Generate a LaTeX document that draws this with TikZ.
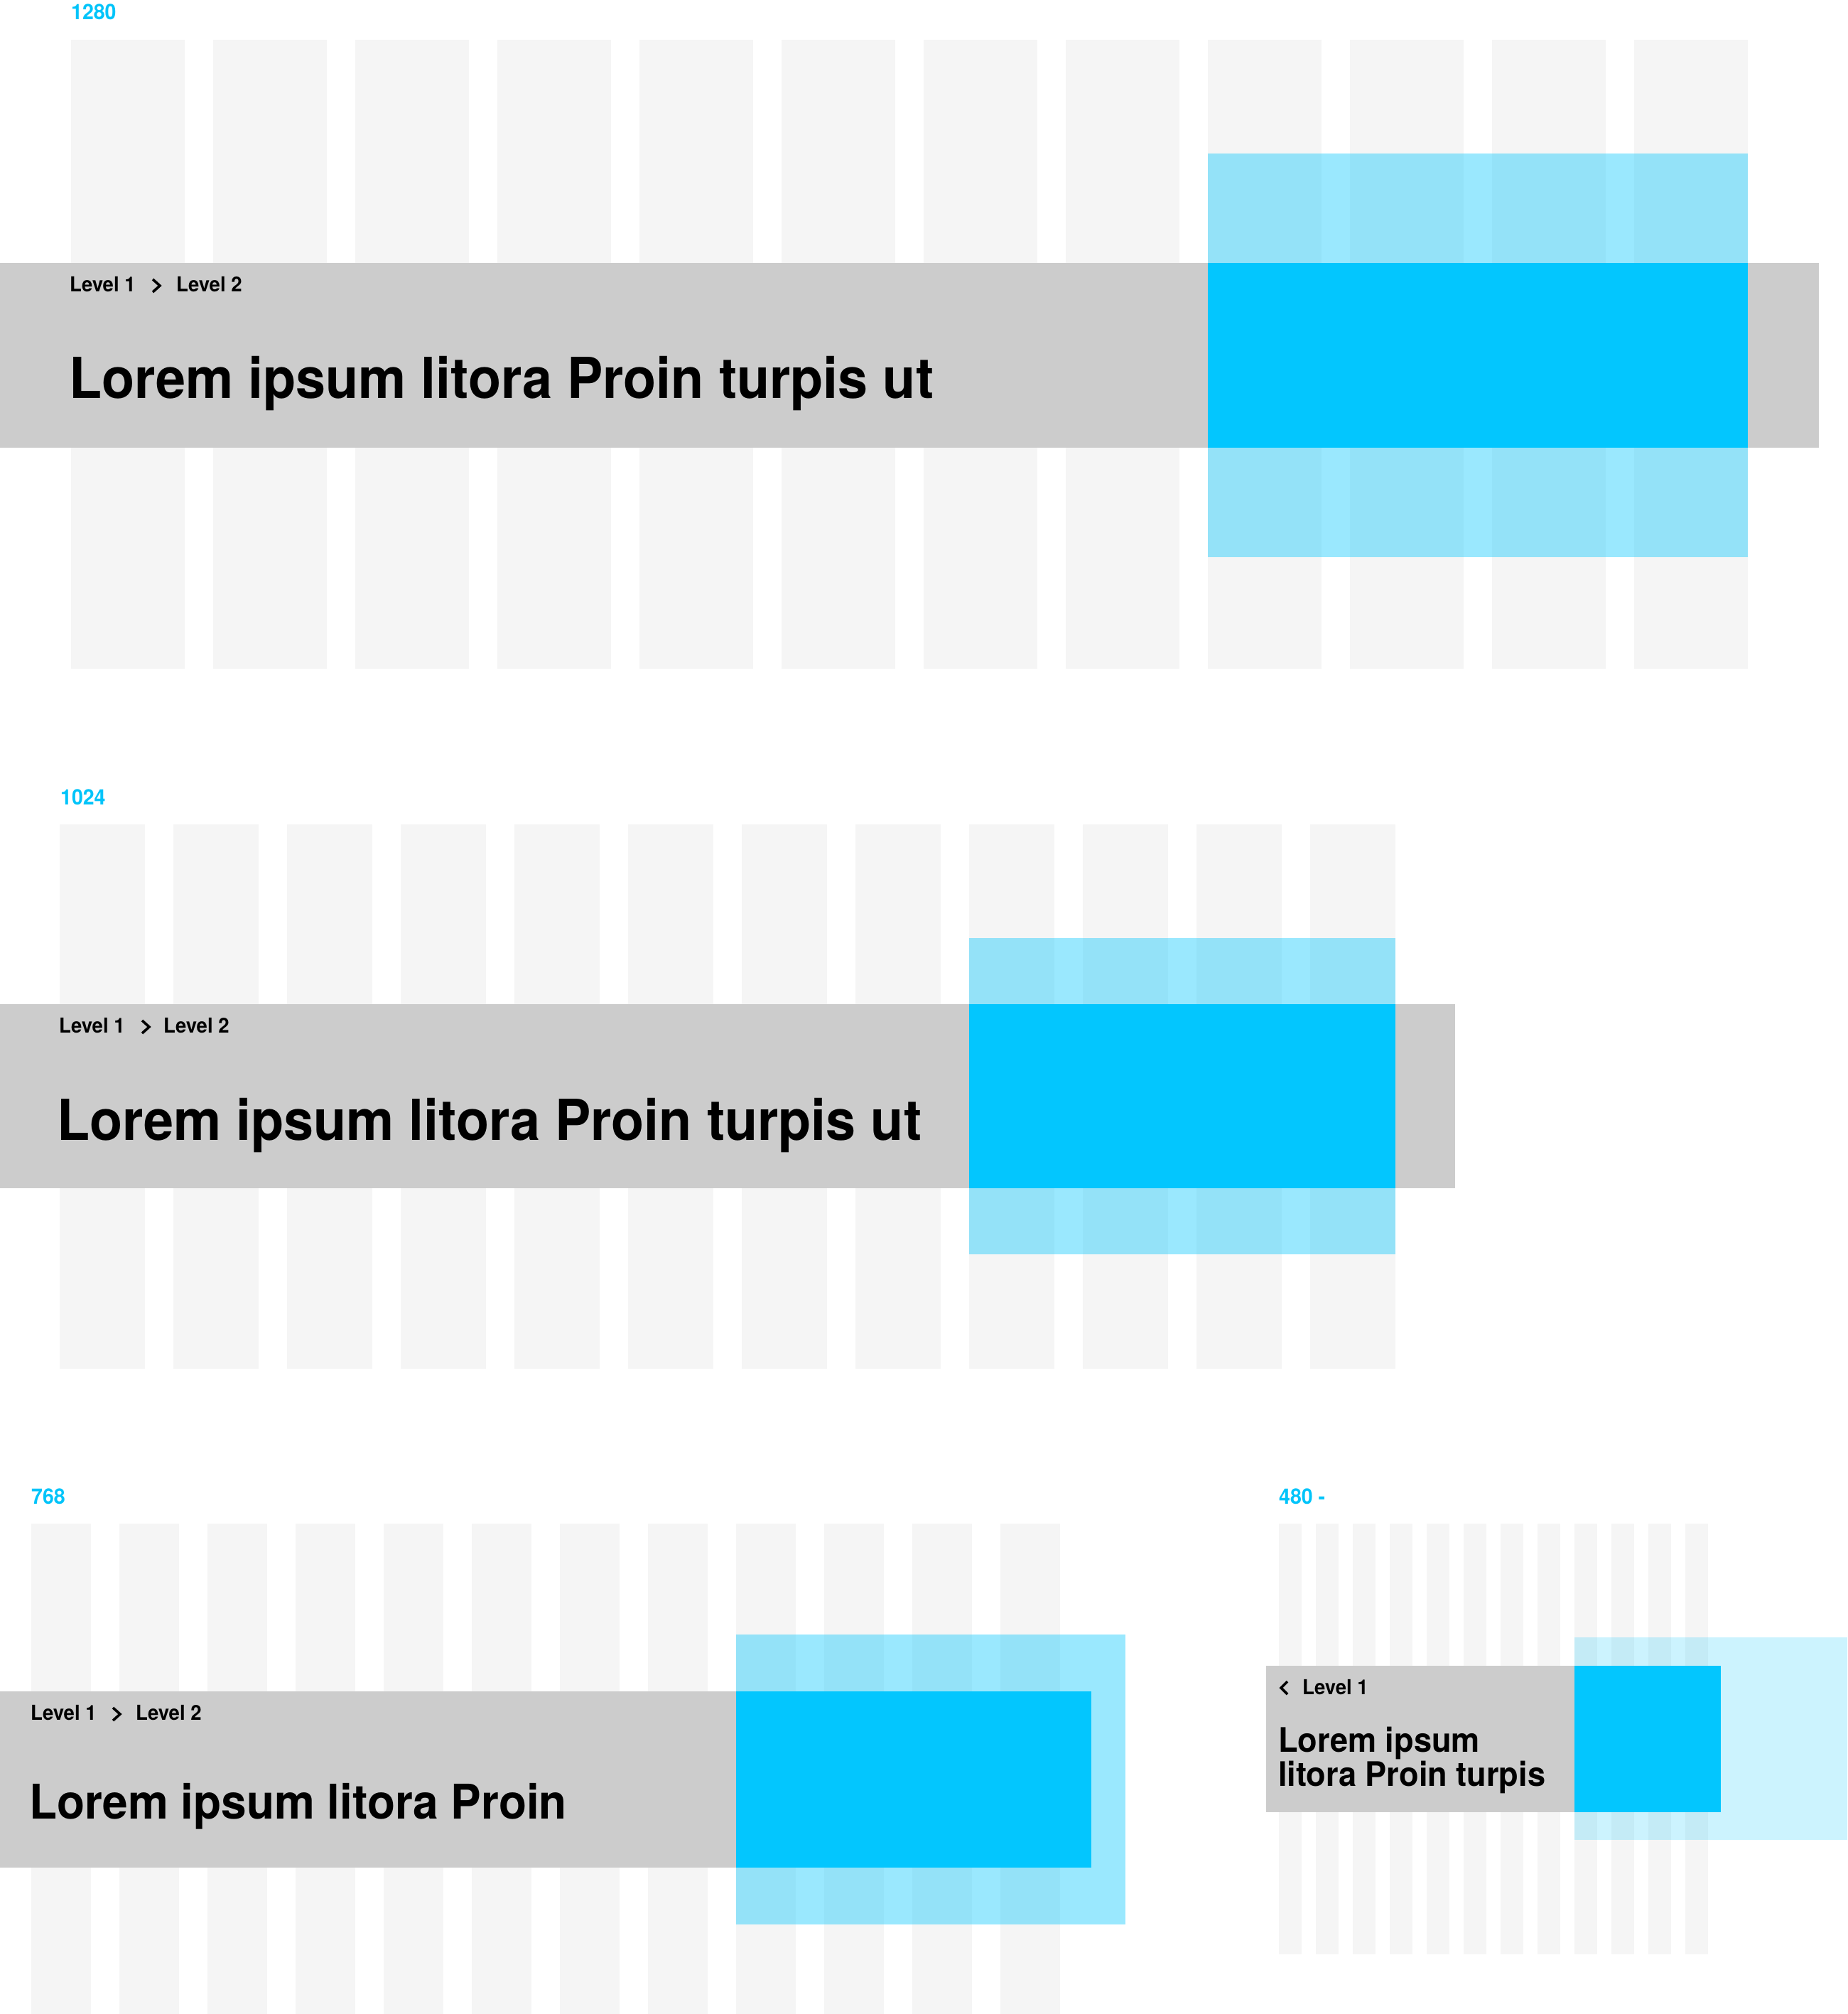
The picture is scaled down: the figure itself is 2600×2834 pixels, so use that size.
\documentclass[tikz,border=0pt]{standalone}
\usepackage{fontspec}
\setmainfont{TeX Gyre Heros}[FakeStretch=0.95]
\definecolor{gridcol}{HTML}{F5F5F5}
\definecolor{bandcol}{HTML}{CCCCCC}
\definecolor{skyblue}{HTML}{03C6FE}
\definecolor{labelblue}{HTML}{00C4FA}
\tikzset{
  gridbar/.style={fill=gridcol},
  band/.style={fill=bandcol},
  halo/.style={fill=skyblue, fill opacity=#1},
  halo/.default=0.4,
  hero/.style={fill=skyblue},
  bp/.style={anchor=base west, inner sep=0pt, text=labelblue,
    font=\fontsize{30}{34}\selectfont\bfseries},
  crumb/.style={anchor=base west, inner sep=0pt,
    font=\fontsize{29}{34}\selectfont\bfseries},
  headline/.style={anchor=base west, inner sep=0pt, align=left,
    font=\fontsize{#1}{48}\selectfont\bfseries},
  chev/.style={line width=3.6pt},
}
\begin{document}
\begin{tikzpicture}[x=1pt,y=-1pt]
\useasboundingbox[fill=white] (0,0) rectangle (2600,2834);

% 1280
\node[bp] (w1280) at (100,28) {1280};
\foreach \k in {0,...,11}
  \fill[gridbar] ({100+200*\k},56) rectangle ++(160,885);
\fill[band] (0,370) rectangle (2560,630);
\fill[halo] (1700,216) rectangle (2460,784);
\fill[hero] (1700,370) rectangle (2460,630);
\node[crumb] (a1) at (98,410) {Level 1};
\draw[chev] (215,393) -- (225,402) -- (215,411);
\node[crumb] (a2) at (248,410) {Level 2};
\node[headline=79.5] (atitle) at (97,560) {Lorem ipsum litora Proin turpis ut};

% 1024
\node[bp] (w1024) at (85,1132) {1024};
\foreach \k in {0,...,11}
  \fill[gridbar] ({84+160*\k},1160) rectangle ++(120,766);
\fill[band] (0,1413) rectangle (2048,1672);
\fill[halo] (1364,1320) rectangle (1964,1765);
\fill[hero] (1364,1413) rectangle (1964,1672);
\node[crumb] (b1) at (83,1453) {Level 1};
\draw[chev] (200,1436) -- (210,1445) -- (200,1454);
\node[crumb] (b2) at (230,1453) {Level 2};
\node[headline=79.5] (btitle) at (80,1604) {Lorem ipsum litora Proin turpis ut};

% 768
\node[bp] (w768) at (44,2116) {768};
\foreach \k in {0,...,11}
  \fill[gridbar] ({44+124*\k},2144) rectangle ++(84,690);
\fill[band] (0,2380) rectangle (1536,2628);
\fill[halo] (1036,2300) rectangle (1584,2708);
\fill[hero] (1036,2380) rectangle (1536,2628);
\node[crumb] (c1) at (43,2420) {Level 1};
\draw[chev] (159,2403) -- (169,2412) -- (159,2421);
\node[crumb] (c2) at (191,2420) {Level 2};
\node[headline=67.3] (ctitle) at (41,2559) {Lorem ipsum litora Proin};

% 480
\node[bp] (w480) at (1800,2116) {480 -};
\foreach \k in {0,...,11}
  \fill[gridbar] ({1800+52*\k},2144) rectangle ++(32,606);
\fill[band] (1782,2344) rectangle (2216,2550);
\fill[halo=0.2] (2216,2304) rectangle (2600,2589);
\fill[hero] (2216,2344) rectangle (2422,2550);
\draw[chev] (1812,2366) -- (1803,2375) -- (1812,2384);
\node[crumb] (d1) at (1833,2384) {Level 1};
\node[headline=47.5] (dtitle) at (1799,2513) {Lorem ipsum\\litora Proin turpis};
\end{tikzpicture}
\end{document}
